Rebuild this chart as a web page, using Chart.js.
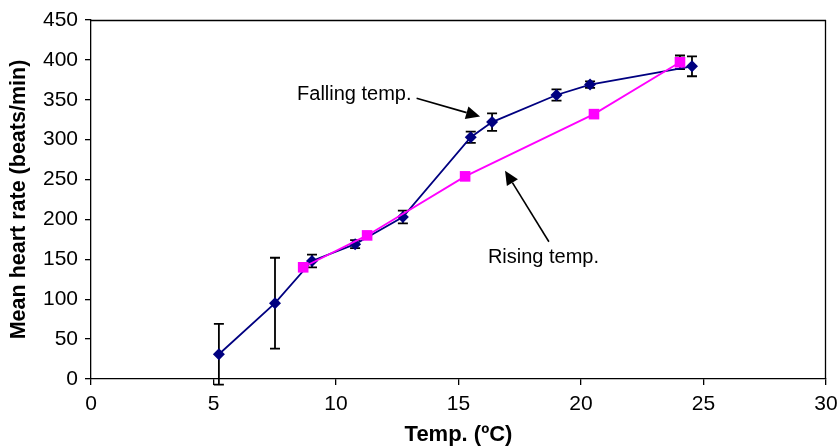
<!DOCTYPE html>
<html>
<head>
<meta charset="utf-8">
<script src="https://cdn.jsdelivr.net/npm/chart.js@4/dist/chart.umd.min.js"></script>
<style>
  html, body { margin: 0; padding: 0; background: #fff; }
  #wrap { width: 840px; height: 448px; }
</style>
</head>
<body>
<div id="wrap"><canvas id="c" width="840" height="448"></canvas></div>
<script>
// ---- Data ----
const fallingTemp = [5.22, 7.51, 9.02, 10.78, 12.73, 15.5, 16.37, 19.0, 20.37, 24.53];
const fallingRate = [31, 95, 148, 169, 203, 303, 322, 356, 369, 392];
const fallingErr  = [38, 57, 8, 5, 8, 7, 11, 7, 4, 12.5];

const risingTemp = [8.66, 11.27, 15.27, 20.53, 24.04];
const risingRate = [140, 180, 254, 332, 397];
const risingErr  = [0, 0, 0, 0, 8.5];

const xTicks = [0, 5, 10, 15, 20, 25, 30];
const yTicks = [0, 50, 100, 150, 200, 250, 300, 350, 400, 450];

const xTitle = 'Temp. (ºC)';
const yTitle = 'Mean heart rate (beats/min)';

// annotation labels and arrows, in data units
const noteLabels = ['Falling temp.', 'Rising temp.'];
const noteTextAt = [[8.41, 349.5], [16.2, 145.5]];
const noteArrowFrom = [[13.29, 352], [18.69, 172]];
const noteArrowTo   = [[15.88, 329], [16.9, 261]];

const FONT = '"Liberation Sans", Arial, sans-serif';
const pts = (xs, ys) => xs.map((x, i) => ({ x: x, y: ys[i] }));

const errorBarPlugin = {
  id: 'errorBars',
  beforeDatasetsDraw(chart) {
    const ctx = chart.ctx;
    const xs = chart.scales.x, ys = chart.scales.y;
    const sets = [[risingTemp, risingRate, risingErr], [fallingTemp, fallingRate, fallingErr]];
    ctx.save();
    ctx.strokeStyle = '#000';
    ctx.lineWidth = 1.8;
    sets.forEach(([tx, ty, te]) => {
      tx.forEach((t, i) => {
        if (!te[i]) return;
        const px = xs.getPixelForValue(t);
        const top = ys.getPixelForValue(ty[i] + te[i]);
        const bot = ys.getPixelForValue(ty[i] - te[i]);
        ctx.beginPath();
        ctx.moveTo(px, top); ctx.lineTo(px, bot);
        ctx.moveTo(px - 5, top); ctx.lineTo(px + 5, top);
        ctx.moveTo(px - 5, bot); ctx.lineTo(px + 5, bot);
        ctx.stroke();
      });
    });
    ctx.restore();
  }
};

const framePlugin = {
  id: 'frame',
  beforeDatasetsDraw(chart) {
    const { ctx, chartArea: a } = chart;
    ctx.save();
    ctx.strokeStyle = '#000';
    ctx.lineWidth = 1.3;
    ctx.beginPath();
    ctx.moveTo(a.left, a.top + 0.5); ctx.lineTo(a.right, a.top + 0.5);
    ctx.moveTo(a.right - 0.5, a.top); ctx.lineTo(a.right - 0.5, a.bottom);
    ctx.stroke();
    ctx.restore();
  }
};

const notesPlugin = {
  id: 'notes',
  afterDatasetsDraw(chart) {
    const ctx = chart.ctx;
    const xs = chart.scales.x, ys = chart.scales.y;
    ctx.save();
    ctx.fillStyle = '#000';
    ctx.strokeStyle = '#000';
    ctx.font = '20px ' + FONT;
    ctx.textBaseline = 'alphabetic';
    ctx.textAlign = 'left';
    noteLabels.forEach((txt, i) => {
      ctx.fillText(txt, xs.getPixelForValue(noteTextAt[i][0]), ys.getPixelForValue(noteTextAt[i][1]));
      const x1 = xs.getPixelForValue(noteArrowFrom[i][0]), y1 = ys.getPixelForValue(noteArrowFrom[i][1]);
      const x2 = xs.getPixelForValue(noteArrowTo[i][0]), y2 = ys.getPixelForValue(noteArrowTo[i][1]);
      const ang = Math.atan2(y2 - y1, x2 - x1);
      const L = 14, W = 6.5;
      const bx = x2 - L * Math.cos(ang), by = y2 - L * Math.sin(ang);
      ctx.lineWidth = 1.6;
      ctx.beginPath(); ctx.moveTo(x1, y1); ctx.lineTo(bx, by); ctx.stroke();
      ctx.beginPath();
      ctx.moveTo(x2, y2);
      ctx.lineTo(bx + W * Math.sin(ang), by - W * Math.cos(ang));
      ctx.lineTo(bx - W * Math.sin(ang), by + W * Math.cos(ang));
      ctx.closePath(); ctx.fill();
    });
    ctx.restore();
  }
};

new Chart(document.getElementById('c'), {
  type: 'scatter',
  data: {
    datasets: [
      {
        label: 'Rising temp.',
        data: pts(risingTemp, risingRate),
        showLine: true,
        borderColor: '#FF00FF',
        backgroundColor: '#FF00FF',
        borderWidth: 1.8,
        pointStyle: 'rect',
        pointRadius: 7.5,
        pointHoverRadius: 7.5,
        pointBorderWidth: 0,
        tension: 0
      },
      {
        label: 'Falling temp.',
        data: pts(fallingTemp, fallingRate),
        showLine: true,
        borderColor: '#000080',
        backgroundColor: '#000080',
        borderWidth: 1.8,
        pointStyle: 'rectRot',
        pointRadius: 6,
        pointHoverRadius: 6,
        pointBorderWidth: 0,
        tension: 0
      }
    ]
  },
  options: {
    responsive: false,
    animation: false,
    devicePixelRatio: 1,
    layout: { padding: { top: 20, right: 14, left: 0, bottom: 0 } },
    plugins: { legend: { display: false }, tooltip: { enabled: false } },
    scales: {
      x: {
        type: 'linear',
        min: 0, max: 30,
        afterFit(s) { s.height = 69; s.paddingRight = 10; s.paddingLeft = 10; },
        afterBuildTicks(s) { s.ticks = xTicks.map(v => ({ value: v })); },
        ticks: { color: '#000', font: { family: FONT, size: 21 }, padding: 7, maxRotation: 0 },
        grid: { display: true, drawOnChartArea: false, drawTicks: true, tickLength: 6, color: '#000', lineWidth: 1.3 },
        border: { display: true, color: '#000', width: 1.3 },
        title: { display: true, text: xTitle, color: '#000', font: { family: FONT, size: 22, weight: 'bold' }, padding: { top: 0, bottom: 0 } }
      },
      y: {
        type: 'linear',
        min: 0, max: 450,
        afterFit(s) { s.width = 91; },
        afterBuildTicks(s) { s.ticks = yTicks.map(v => ({ value: v })); },
        ticks: { color: '#000', font: { family: FONT, size: 21 }, padding: 7 },
        grid: { display: true, drawOnChartArea: false, drawTicks: true, tickLength: 6, color: '#000', lineWidth: 1.3 },
        border: { display: true, color: '#000', width: 1.3 },
        title: { display: true, text: yTitle, color: '#000', font: { family: FONT, size: 21.5, weight: 'bold' }, padding: { top: 6, bottom: 0 } }
      }
    }
  },
  plugins: [framePlugin, errorBarPlugin, notesPlugin]
});
</script>
</body>
</html>
